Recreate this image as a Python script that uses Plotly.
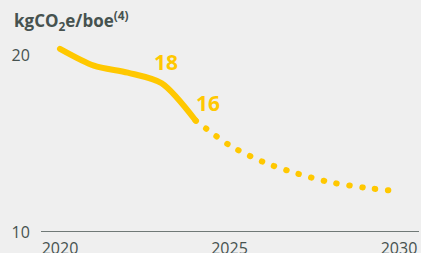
import plotly.graph_objects as go

years_actual = [2020, 2021, 2022, 2023, 2024]
values_actual = [20.35, 19.4, 19.0, 18.4, 16.3]
years_target = [2024, 2025, 2026, 2027, 2028, 2029, 2030]
values_target = [16.3, 14.9, 13.95, 13.3, 12.8, 12.5, 12.3]
label_years = [2023, 2024]
label_values = [18, 16]
y_ticks = [10, 20]
x_ticks = [2020, 2025, 2030]

YEL = "#FFC800"
GREY = "#46524f"
FONT = "Open Sans"

fig = go.Figure()
fig.add_trace(go.Scatter(x=years_actual, y=values_actual, mode="lines",
                         line=dict(color=YEL, width=6, shape="spline", smoothing=0.8),
                         hoverinfo="skip"))
fig.add_trace(go.Scatter(x=years_target, y=values_target, mode="lines",
                         line=dict(color=YEL, width=6, shape="spline", smoothing=0.8,
                                   dash="0.5px,12.5px"),
                         hoverinfo="skip"))
for yr, v, xs, ys in zip(label_years, label_values, [4, 12], [28, 23]):
    fig.add_annotation(x=yr, y=v, text=f"<b>{v}</b>", showarrow=False,
                       xshift=xs, yshift=ys,
                       font=dict(color=YEL, size=21, family=FONT),
                       xref="x", yref="y")

fig.update_layout(
    width=421, height=253,
    margin=dict(l=41, r=2, t=30, b=21),
    paper_bgcolor="#EFEFEF", plot_bgcolor="#EFEFEF",
    showlegend=False,
    font=dict(family=FONT, color=GREY, size=16),
    xaxis=dict(range=[2019.44, 2030.59], tickvals=x_ticks, showgrid=False, zeroline=False,
               showline=False, ticks="outside", ticklen=2, tickcolor="rgba(0,0,0,0)",
               automargin=False, tickfont=dict(size=16, color=GREY)),
    yaxis=dict(range=[10, 21.41], tickvals=y_ticks, showgrid=False, zeroline=False,
               showline=False, ticks="outside", ticklen=7, tickcolor="rgba(0,0,0,0)",
               automargin=False, tickfont=dict(size=16, color=GREY)),
)
fig.add_shape(type="line", xref="paper", yref="y", x0=0, x1=1, y0=10, y1=10,
              line=dict(color=GREY, width=1.5))
fig.add_annotation(xref="paper", yref="paper", x=-29/378, y=1.0, xanchor="left", yanchor="bottom",
                   text="<b>kgCO<sub>2</sub>e/boe<sup>(4)</sup></b>", showarrow=False,
                   font=dict(size=17, color=GREY, family=FONT), yshift=-6)

fig.write_html("out.html", config={"displayModeBar": False}, post_script="""
document.body.style.margin='0';
document.body.style.background='#EFEFEF';
document.querySelectorAll('.js-line').forEach(function(p){p.style.strokeLinecap='round';});
""")
